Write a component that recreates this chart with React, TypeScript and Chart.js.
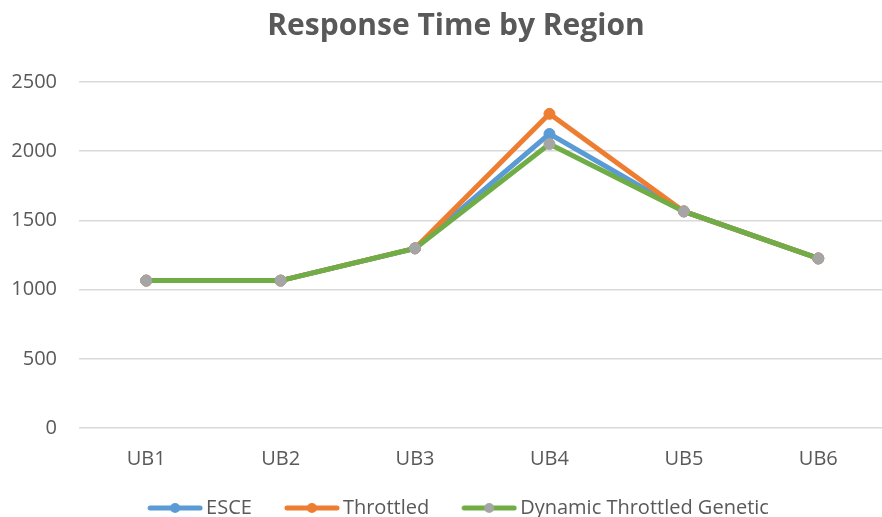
import React, { useEffect, useRef } from "react";
import { Chart, registerables } from "chart.js";

Chart.register(...registerables);

const categories = ["UB1", "UB2", "UB3", "UB4", "UB5", "UB6"];
const esce = [1065, 1065, 1298, 2125, 1565, 1225];
const throttled = [1065, 1065, 1298, 2270, 1565, 1225];
const dynamicGenetic = [1065, 1065, 1298, 2052, 1565, 1225];
const yTicks = [0, 500, 1000, 1500, 2000, 2500];

const FONT = "'Open Sans', 'Noto Sans', sans-serif";
const TEXT = "#595959";

function legendIcon(line: string, dot: string) {
  const c = document.createElement("canvas");
  c.width = 87;
  c.height = 14;
  const ctx = c.getContext("2d")!;
  ctx.strokeStyle = line;
  ctx.lineWidth = 5;
  ctx.lineCap = "round";
  ctx.beginPath();
  ctx.moveTo(34, 7);
  ctx.lineTo(84, 7);
  ctx.stroke();
  ctx.fillStyle = dot;
  ctx.beginPath();
  ctx.arc(59, 7, 5, 0, Math.PI * 2);
  ctx.fill();
  return c;
}

const titleShift = {
  id: "titleShift",
  afterLayout(chart: any) {
    const t = chart.titleBlock;
    if (t) {
      t.left += 10;
      t.right += 10;
    }
  },
};

export default function App() {
  const ref = useRef<HTMLCanvasElement>(null);
  useEffect(() => {
    if (!ref.current) return;
    const series = [
      { label: "ESCE", data: esce, line: "#5b9bd5", dot: "#5b9bd5", order: 2 },
      { label: "Throttled", data: throttled, line: "#ed7d31", dot: "#ed7d31", order: 1 },
      { label: "Dynamic Throttled Genetic", data: dynamicGenetic, line: "#70ad47", dot: "#a5a5a5", order: 0 },
    ];
    const icons = series.map((s) => legendIcon(s.line, s.dot));
    const chart = new Chart(ref.current, {
      type: "line",
      plugins: [titleShift],
      data: {
        labels: categories,
        datasets: series.map((s) => ({
          label: s.label,
          data: s.data,
          borderColor: s.line,
          backgroundColor: s.line,
          borderWidth: 5,
          pointRadius: 5.5,
          pointBackgroundColor: s.dot,
          pointBorderColor: s.dot,
          pointBorderWidth: 1,
          tension: 0,
          order: s.order,
        })),
      },
      options: {
        responsive: false,
        animation: false,
        layout: { padding: { left: 0, right: 0, top: 0, bottom: 0 } },
        plugins: {
          title: {
            display: true,
            text: "Response Time by Region",
            color: TEXT,
            font: { family: FONT, size: 30, weight: "bold" },
            padding: { top: 8, bottom: 38 },
          },
          legend: {
            position: "bottom",
            labels: {
              usePointStyle: true,
              pointStyleWidth: 73,
              boxHeight: 14,
              padding: 8,
              color: TEXT,
              font: { family: FONT, size: 20 },
              sort: (a: any, b: any) => a.datasetIndex - b.datasetIndex,
              generateLabels: (ch: any) => {
                const items = Chart.defaults.plugins.legend.labels.generateLabels(ch);
                return items.map((it: any) => ({ ...it, pointStyle: icons[it.datasetIndex] }));
              },
            },
          },
          tooltip: { enabled: false },
        },
        scales: {
          x: {
            offset: true,
            grid: { display: false, drawTicks: false },
            border: { display: false },
            ticks: { color: TEXT, font: { family: FONT, size: 20 }, padding: 19 },
          },
          y: {
            min: 0,
            max: 2500,
            afterBuildTicks: (axis: any) => {
              axis.ticks = yTicks.map((v) => ({ value: v }));
            },
            afterFit: (axis: any) => {
              axis.width = 79;
            },
            grid: { color: "#d9d9d9", lineWidth: 1.5, drawTicks: false },
            border: { display: false },
            ticks: {
              color: TEXT,
              font: { family: FONT, size: 20 },
              padding: 22,
              callback: (v: any) => String(v),
            },
          },
        },
      },
    });
    return () => chart.destroy();
  }, []);
  return (
    <div style={{ position: "fixed", left: 0, top: 0, width: 882, height: 517, overflow: "hidden", background: "#fff" }}>
      <canvas ref={ref} width={892} height={528} style={{ display: "block" }} />
    </div>
  );
}
